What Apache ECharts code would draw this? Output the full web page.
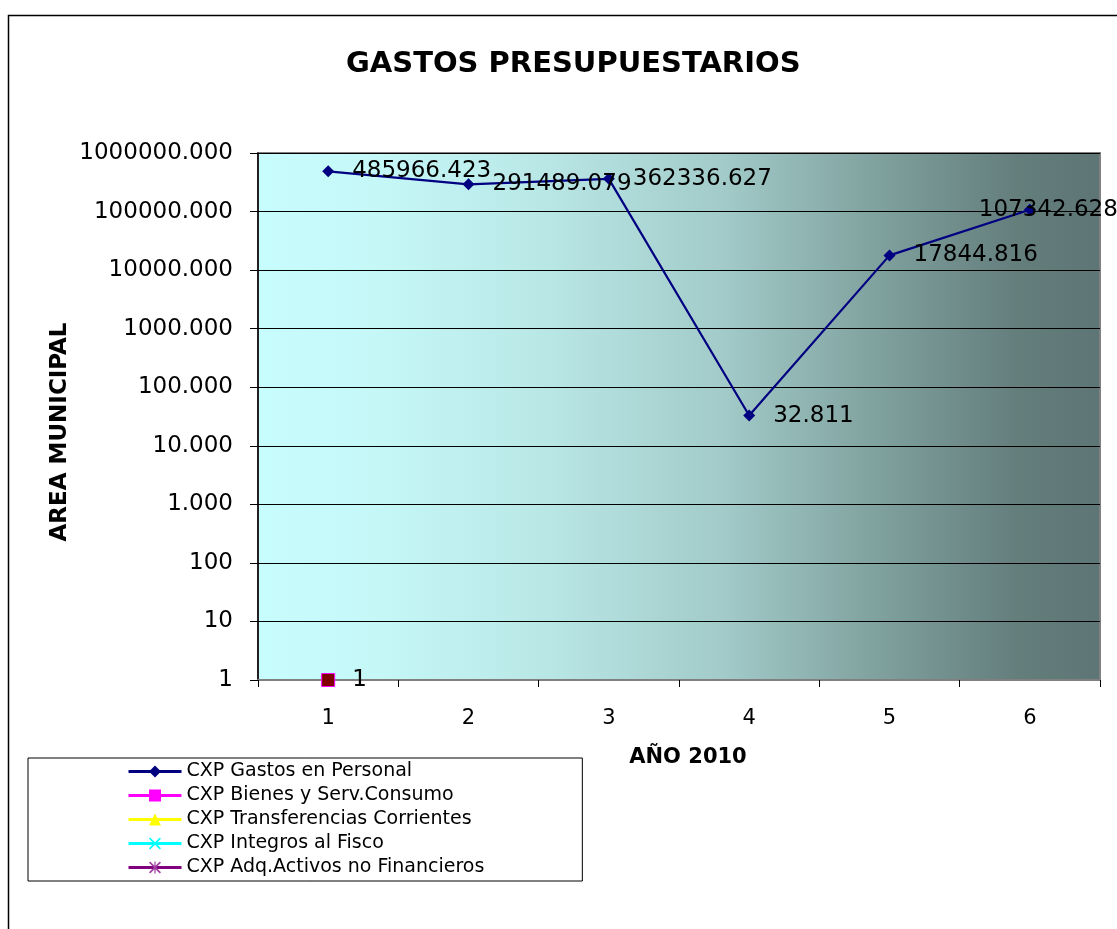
<!DOCTYPE html>
<html>
<head>
<meta charset="utf-8">
<script src="https://cdn.jsdelivr.net/npm/echarts@6/dist/echarts.min.js"></script>
<style>
  html, body { margin: 0; padding: 0; background: #fff; }
  #chart { width: 1117px; height: 929px; }
</style>
</head>
<body>
<div id="chart"></div>
<script>
  // categories (year 2010, periods 1..6)
  var categories = ['1', '2', '3', '4', '5', '6'];

  // series values
  var gastosPersonal = [485966.423, 291489.079, 362336.627, 32.811, 17844.816, 107342.628];
  var bienesServ = [0.001, null, null, null, null, null];
  var transferencias = [];
  var integrosFisco = [];
  var adqActivos = [];

  // y tick labels, bottom (0.001) to top (1000000), as printed in the picture
  var yTickLabels = ['1', '10', '100', '1.000', '10.000', '100.000', '1000.000', '10000.000', '100000.000', '1000000.000'];

  var FONT = '"DejaVu Sans", sans-serif';

  function fmtLog(v) {
    var e = Math.log10(v);
    var i = Math.round(e) + 3;
    if (i >= 0 && i < yTickLabels.length && Math.abs(e - Math.round(e)) < 1e-6) {
      return yTickLabels[i];
    }
    return v.toFixed(3);
  }

  // last label is pulled back inside the chart, like in the picture
  var labelShift = { 5: [-75, 0] };

  var chart = echarts.init(document.getElementById('chart'));

  var option = {
    animation: false,
    backgroundColor: '#ffffff',
    grid: {
      left: 258, top: 153, right: 17, bottom: 249,
      show: true,
      borderColor: '#808080',
      borderWidth: 2,
      backgroundColor: new echarts.graphic.LinearGradient(0, 0, 1, 0, [
        { offset: 0, color: '#c8fdfd' },
        { offset: 0.15, color: '#c5f7f7' },
        { offset: 0.35, color: '#b8e6e5' },
        { offset: 0.55, color: '#a2cbc9' },
        { offset: 0.75, color: '#7d9e9b' },
        { offset: 0.9, color: '#647e7c' },
        { offset: 1, color: '#5d7675' }
      ])
    },
    graphic: [
      {
        type: 'rect', silent: true, z: -1,
        shape: { x: 8.5, y: 15.5, width: 1130, height: 940 },
        style: { fill: 'none', stroke: '#000', lineWidth: 1.5 }
      },
      {
        type: 'text', x: 346, y: 64,
        style: { text: 'GASTOS PRESUPUESTARIOS', font: 'bold 29px ' + FONT, fill: '#000', align: 'left', verticalAlign: 'middle' }
      },
      {
        type: 'text', x: 60, y: 432, rotation: Math.PI / 2,
        style: { text: 'AREA MUNICIPAL', font: 'bold 23px ' + FONT, fill: '#000', align: 'center', verticalAlign: 'middle' }
      },
      {
        type: 'text', x: 688, y: 758,
        style: { text: 'AÑO 2010', font: 'bold 21px ' + FONT, fill: '#000', align: 'center', verticalAlign: 'middle' }
      }
    ],
    legend: {
      orient: 'vertical',
      left: 28, top: 758,
      borderColor: '#000', borderWidth: 1,
      padding: [4, 98, 4, 99],
      itemWidth: 53, itemHeight: 15, itemGap: 5,
      lineStyle: { width: 3 },
      textStyle: { fontFamily: FONT, fontSize: 19, color: '#000' },
      data: ['CXP Gastos en Personal', 'CXP Bienes y Serv.Consumo', 'CXP Transferencias Corrientes', 'CXP Integros al Fisco', 'CXP Adq.Activos no Financieros']
    },
    xAxis: {
      type: 'category',
      data: categories,
      boundaryGap: true,
      axisLine: { lineStyle: { color: '#808080', width: 2 } },
      axisTick: { show: true, alignWithLabel: false, length: 7, lineStyle: { color: '#000', width: 1 } },
      axisLabel: { fontFamily: FONT, fontSize: 21, color: '#000', margin: 28 },
      splitLine: { show: false }
    },
    yAxis: {
      type: 'log',
      logBase: 10,
      min: 0.001,
      max: 1000000,
      axisLine: { show: true, lineStyle: { color: '#000', width: 1.5 } },
      axisTick: { show: true, length: 8, lineStyle: { color: '#000' } },
      axisLabel: { fontFamily: FONT, fontSize: 23, color: '#000', margin: 25, formatter: fmtLog },
      splitLine: { show: true, lineStyle: { color: '#000', width: 1 } }
    },
    series: [
      {
        name: 'CXP Gastos en Personal',
        type: 'line',
        data: gastosPersonal.map(function (v, i) {
          var d = { value: v };
          if (labelShift[i]) d.label = { offset: labelShift[i] };
          return d;
        }),
        symbol: 'diamond', symbolSize: 12,
        color: '#000080',
        lineStyle: { color: '#000080', width: 2.2 },
        itemStyle: { color: '#000080' },
        label: {
          show: true, position: 'right', distance: 18,
          fontFamily: FONT, fontSize: 23, color: '#000',
          formatter: function (p) { return p.value.toFixed(3); }
        },
        z: 5
      },
      {
        name: 'CXP Bienes y Serv.Consumo',
        type: 'line',
        data: bienesServ.map(function (v) {
          return v == null ? null : { value: v, itemStyle: { color: '#800000', borderColor: '#ff00ff', borderWidth: 1 } };
        }),
        symbol: 'rect', symbolSize: 13,
        color: '#ff00ff',
        lineStyle: { color: '#ff00ff', width: 2 },
        itemStyle: { color: '#ff00ff' },
        label: {
          show: true, position: 'right', distance: 17,
          fontFamily: FONT, fontSize: 23, color: '#000',
          formatter: function (p) { return fmtLog(p.value); }
        },
        z: 4
      },
      {
        name: 'CXP Transferencias Corrientes',
        type: 'line', data: transferencias,
        symbol: 'triangle', symbolSize: 12,
        color: '#ffff00',
        lineStyle: { color: '#ffff00', width: 2 },
        itemStyle: { color: '#ffff00' }
      },
      {
        name: 'CXP Integros al Fisco',
        type: 'line', data: integrosFisco,
        symbol: 'path://M0,1L1,0L5,4L9,0L10,1L6,5L10,9L9,10L5,6L1,10L0,9L4,5Z', symbolSize: 12,
        color: '#00ffff',
        lineStyle: { color: '#00ffff', width: 2 },
        itemStyle: { color: '#00ffff' }
      },
      {
        name: 'CXP Adq.Activos no Financieros',
        type: 'line', data: adqActivos,
        symbol: 'path://M0,1L1,0L5,4L9,0L10,1L6,5L10,9L9,10L5,6L1,10L0,9L4,5ZM4.5,0L5.5,0L5.5,10L4.5,10Z', symbolSize: 12,
        color: '#800080',
        lineStyle: { color: '#800080', width: 2 },
        itemStyle: { color: '#a040a0' }
      }
    ]
  };

  chart.setOption(option);
</script>
</body>
</html>
